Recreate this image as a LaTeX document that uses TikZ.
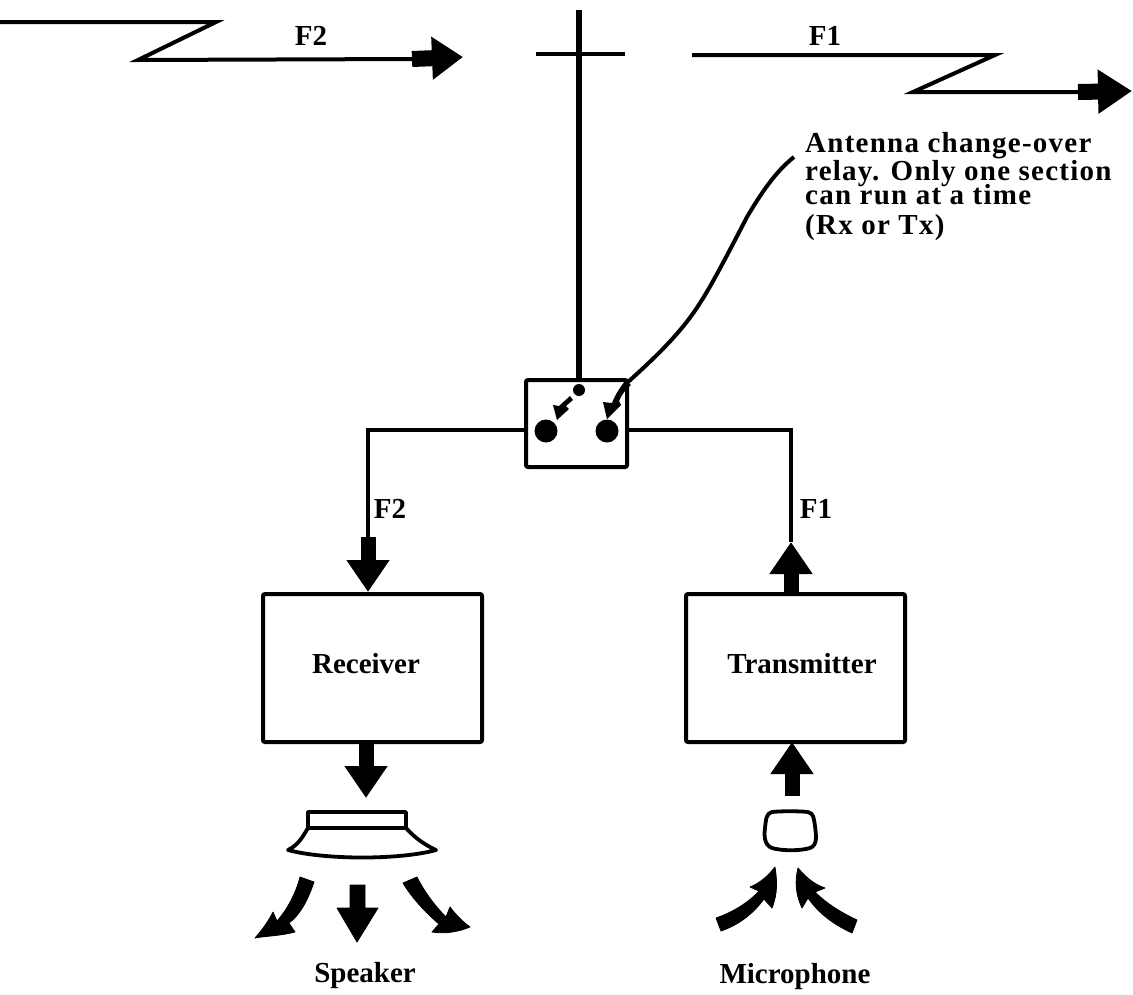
\documentclass[tikz,border=0pt]{standalone}
\usepackage{fontspec}
\setmainfont{Liberation Serif}
\newfontfamily\notefont[LetterSpace=4.3]{Liberation Serif}
\usetikzlibrary{arrows.meta}
\tikzset{
  wire/.style={line width=4pt,line join=miter},
  box/.style={draw,line width=4pt,rounded corners=2pt,inner sep=0pt},
  bigarrow/.style={line width=15pt,-{Triangle[length=32pt,width=41pt]}},
  lbl/.style={inner sep=0pt,anchor=base,font=\fontsize{29}{32}\selectfont\bfseries},
  solidshape/.style={fill=black,draw=black,line width=0.8pt,line join=round},
  hollow/.style={draw=black,line width=3.8pt,line join=round,fill=white}
}
\begin{document}
\begin{tikzpicture}[x=1pt,y=-1pt]
\useasboundingbox (0,0) rectangle (1133,994);
% coordinates
\coordinate (z1a) at (0,22);\coordinate (z1b) at (216,22);\coordinate (z1c) at (138,60);\coordinate (z1d) at (412,59);\coordinate (z1e) at (463,57);
\coordinate (z2a) at (692,55);\coordinate (z2b) at (995,55);\coordinate (z2c) at (913,92);\coordinate (z2d) at (1078,92);\coordinate (z2e) at (1132,91);
\coordinate (antTop) at (579,10);\coordinate (barL) at (536,54);\coordinate (barR) at (625,54);
% boxes
\node[box,minimum width=101pt,minimum height=87pt] (relay) at (576.5,423.5) {};
\node[box,minimum width=219pt,minimum height=148pt] (receiver) at (372.5,668) {};
\node[box,minimum width=219pt,minimum height=148pt] (transmitter) at (795.5,668) {};
\node[lbl] (rxlabel) at (366,673) {Receiver};
\node[lbl] (txlabel) at (802,673) {Transmitter};
\coordinate (rxIn) at (368,537);\coordinate (txOut) at (791,542);
\coordinate (rxBend) at (368,430);\coordinate (txBend) at (791,430);
\coordinate (spkTip) at (366,798);\coordinate (micTail) at (792,796);\coordinate (txFoot) at (792,742);
\coordinate (txHead) at (791,594);
% radio links
\draw[wire] (z1a)--(z1b)--(z1c)--(z1d);
\draw[line width=16pt,-{Triangle[length=31pt,width=41pt]}] (z1d)--(z1e);
\draw[wire] (z2a)--(z2b)--(z2c)--(z2d);
\draw[line width=16pt,-{Triangle[length=34pt,width=42pt]}] (z2d)--(z2e);
\node[lbl] (f2top) at (311,45) {F2};
\node[lbl] (f1top) at (825,45) {F1};
% antenna
\draw[line width=6pt] (antTop)--(relay.north -| antTop);
\draw[wire] (barL)--(barR);
% relay contents
\node[circle,fill=black,inner sep=0pt,minimum size=12pt] (pivot) at (579,390) {};
\node[circle,fill=black,inner sep=0pt,minimum size=23pt] (rxc) at (546,431) {};
\node[circle,fill=black,inner sep=0pt,minimum size=23pt] (txc) at (607,431) {};
\fill (570,396)--(573,400)--(566,406)--(569,409)--(557,420)--(553,405)--(559,406)--cycle;
% feeds
\draw[wire] (relay.west |- rxBend)--(rxBend)--(rxIn);
\draw[wire] (relay.east |- txBend)--(txBend)--(txOut);
\draw[bigarrow] (rxIn)--(rxIn |- receiver.north);
\draw[bigarrow] (txHead)--(txOut);
\node[lbl] (f2mid) at (390,518) {F2};
\node[lbl] (f1mid) at (816,518) {F1};
\draw[bigarrow] (spkTip |- receiver.south)--(spkTip);
\draw[bigarrow] (micTail)--(txFoot);
% callout
\draw[line width=4pt] (794,157) .. controls (775,172) and (760,195) .. (747,217) .. controls (735,240) and (712,285) .. (700,303) .. controls (680,335) and (650,362) .. (628,382);
\fill (626,380)--(631,385) .. controls (625,390) and (621,396) .. (619,401)--(621,405)--(607,419)--(603,402)--(612,403) .. controls (615,395) and (620,387) .. cycle;
\node[inner sep=0pt,anchor=north west,align=left,font=\fontsize{29}{28}\notefont\bfseries] (note) at (805,132) {%
Antenna change-over\\[0pt]relay. Only one section\\[-4pt]can run at a time\\[2pt](Rx or Tx)};
% speaker
\draw[hollow] (308,828)--(308,812)--(406,812)--(406,828);
\draw[hollow] (308,828)--(406,828) .. controls (415,838) and (425,845) .. (436,850) .. controls (400,860) and (325,860) .. (288,850) .. controls (298,845) and (302,838) .. (308,828)--cycle;
\fill[solidshape] (300,877)--(314,882) .. controls (308,900) and (300,915) .. (289,923)--(295,932) .. controls (280,936) and (265,936) .. (255,938) .. controls (262,930) and (268,922) .. (273,912)--(277,921) .. controls (287,910) and (296,893) .. cycle;
\fill[solidshape] (350,885)--(365,885)--(365,908)--(378,908)--(357,942)--(337,908)--(350,908)--cycle;
\fill[solidshape] (403,883)--(417,877) .. controls (425,893) and (436,907) .. (446,917)--(450,907) .. controls (456,915) and (463,922) .. (470,927) .. controls (458,932) and (445,934) .. (432,932)--(439,924) .. controls (425,912) and (412,898) .. cycle;
\node[lbl] (speaker) at (365,982) {Speaker};
% microphone
\draw[hollow,line width=3.8pt] (772,812) .. controls (780,811) and (800,811) .. (808,812) .. controls (814,813) and (814,820) .. (815,826) .. controls (816,835) and (818,845) .. (810,848) .. controls (800,851) and (782,851) .. (772,848) .. controls (764,845) and (764,835) .. (765,828) .. controls (766,820) and (766,813) .. (772,812)--cycle;
\fill[solidshape] (716,918)--(721,931) .. controls (738,925) and (752,915) .. (764,899)--(772,908) .. controls (778,893) and (777,880) .. (775,867) .. controls (768,876) and (760,883) .. (750,887)--(759,891) .. controls (748,903) and (733,912) .. cycle;
\fill[solidshape] (857,920)--(852,933) .. controls (835,925) and (820,915) .. (808,898)--(802,908) .. controls (795,893) and (795,880) .. (798,868) .. controls (805,876) and (813,884) .. (825,888)--(815,892) .. controls (826,903) and (840,912) .. cycle;
\node[lbl] (microphone) at (795,983) {Microphone};
\end{tikzpicture}
\end{document}
